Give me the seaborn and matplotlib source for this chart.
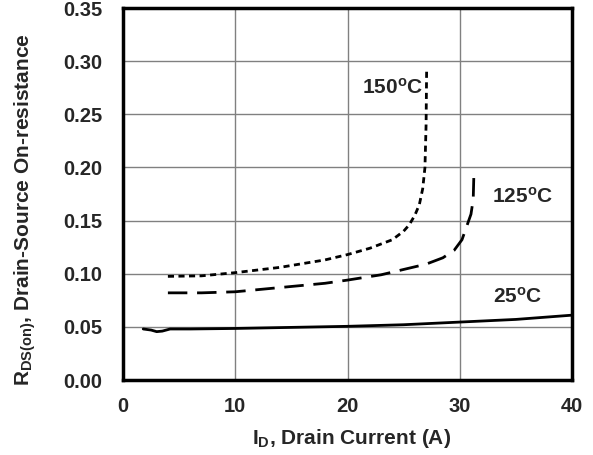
import matplotlib
matplotlib.use("Agg")
import matplotlib.pyplot as plt
import seaborn as sns
import pandas as pd

# Data
i_25 = [1.8, 2.5, 3.0, 3.5, 4.2, 6, 10, 15, 20, 25, 30, 35, 40]
r_25 = [0.048, 0.047, 0.0455, 0.046, 0.048, 0.048, 0.0485, 0.0495, 0.0505, 0.052, 0.0545, 0.057, 0.061]

i_125 = [4, 7, 10, 14, 18, 20, 23, 25, 27, 28.5, 29.5, 30.2, 30.6, 31.0, 31.2, 31.25]
r_125 = [0.082, 0.082, 0.083, 0.087, 0.091, 0.094, 0.099, 0.104, 0.109, 0.115, 0.122, 0.132, 0.144, 0.156, 0.170, 0.190]

i_150 = [4, 7, 10, 14, 18, 20, 22, 24, 25, 25.5, 26, 26.4, 26.7, 26.9, 27.0, 27.05]
r_150 = [0.0975, 0.098, 0.101, 0.106, 0.113, 0.118, 0.124, 0.132, 0.140, 0.146, 0.155, 0.165, 0.180, 0.200, 0.240, 0.292]

x_ticks = [0, 10, 20, 30, 40]
y_ticks = [0.00, 0.05, 0.10, 0.15, 0.20, 0.25, 0.30, 0.35]
labels = ["25$^{\\mathbf{o}}$C", "125$^{\\mathbf{o}}$C", "150$^{\\mathbf{o}}$C"]

sns.set_style("white")
plt.rcParams['font.family'] = ['Liberation Sans', 'DejaVu Sans']
plt.rcParams['font.weight'] = 'bold'
plt.rcParams['mathtext.fontset'] = 'custom'
plt.rcParams['mathtext.rm'] = 'Liberation Sans:bold'
plt.rcParams['mathtext.bf'] = 'Liberation Sans:bold'
plt.rcParams['mathtext.it'] = 'Liberation Sans:bold'
plt.rcParams['mathtext.default'] = 'bf'

FS = 15
TFS = 14.5

fig = plt.figure(figsize=(5.93, 4.55), dpi=100)
ax = fig.add_axes([123/593, 1 - 380/455, (572 - 123)/593, (380 - 8)/455])

df25 = pd.DataFrame({"I": i_25, "R": r_25})
df125 = pd.DataFrame({"I": i_125, "R": r_125})
df150 = pd.DataFrame({"I": i_150, "R": r_150})

sns.lineplot(data=df25, x="I", y="R", ax=ax, color="black", lw=2.0, sort=False, estimator=None)
l125 = sns.lineplot(data=df125, x="I", y="R", ax=ax, color="black", lw=2.0, sort=False, estimator=None).lines[-1]
l125.set_dashes([7, 3.5])
l150 = sns.lineplot(data=df150, x="I", y="R", ax=ax, color="black", lw=2.0, sort=False, estimator=None).lines[-1]
l150.set_dashes([2.2, 1.6])

ax.set_xlim(0, 40)
ax.set_ylim(0, 0.35)
ax.set_xticks(x_ticks)
ax.set_yticks(y_ticks)
ax.set_xticklabels([f"{v}" for v in x_ticks], fontsize=TFS, fontweight='bold')
ax.set_yticklabels([f"{v:.2f}" for v in y_ticks], fontsize=TFS, fontweight='bold')
ax.tick_params(axis='both', length=0)
ax.tick_params(axis='x', pad=12)
ax.tick_params(axis='y', pad=15)
ax.grid(True, color="#808080", lw=1.0)
for s in ax.spines.values():
    s.set_color("black")
    s.set_linewidth(2.5)

ax.set_xlabel("I$_{\\mathbf{D}}$, Drain Current (A)", fontsize=FS, fontweight='bold')
ax.set_ylabel("R$_{\\mathbf{DS(on)}}$, Drain-Source On-resistance", fontsize=FS, fontweight='bold')
ax.xaxis.set_label_coords(0.51, -0.125)
ax.yaxis.set_label_coords(-0.19, 0.457)

ax.text(33.0, 0.078, labels[0], fontsize=FS, fontweight='bold', va='center', ha='left')
ax.text(32.9, 0.172, labels[1], fontsize=FS, fontweight='bold', va='center', ha='left')
ax.text(26.7, 0.275, labels[2], fontsize=FS, fontweight='bold', va='center', ha='right')

fig.savefig("out.png", dpi=100)
